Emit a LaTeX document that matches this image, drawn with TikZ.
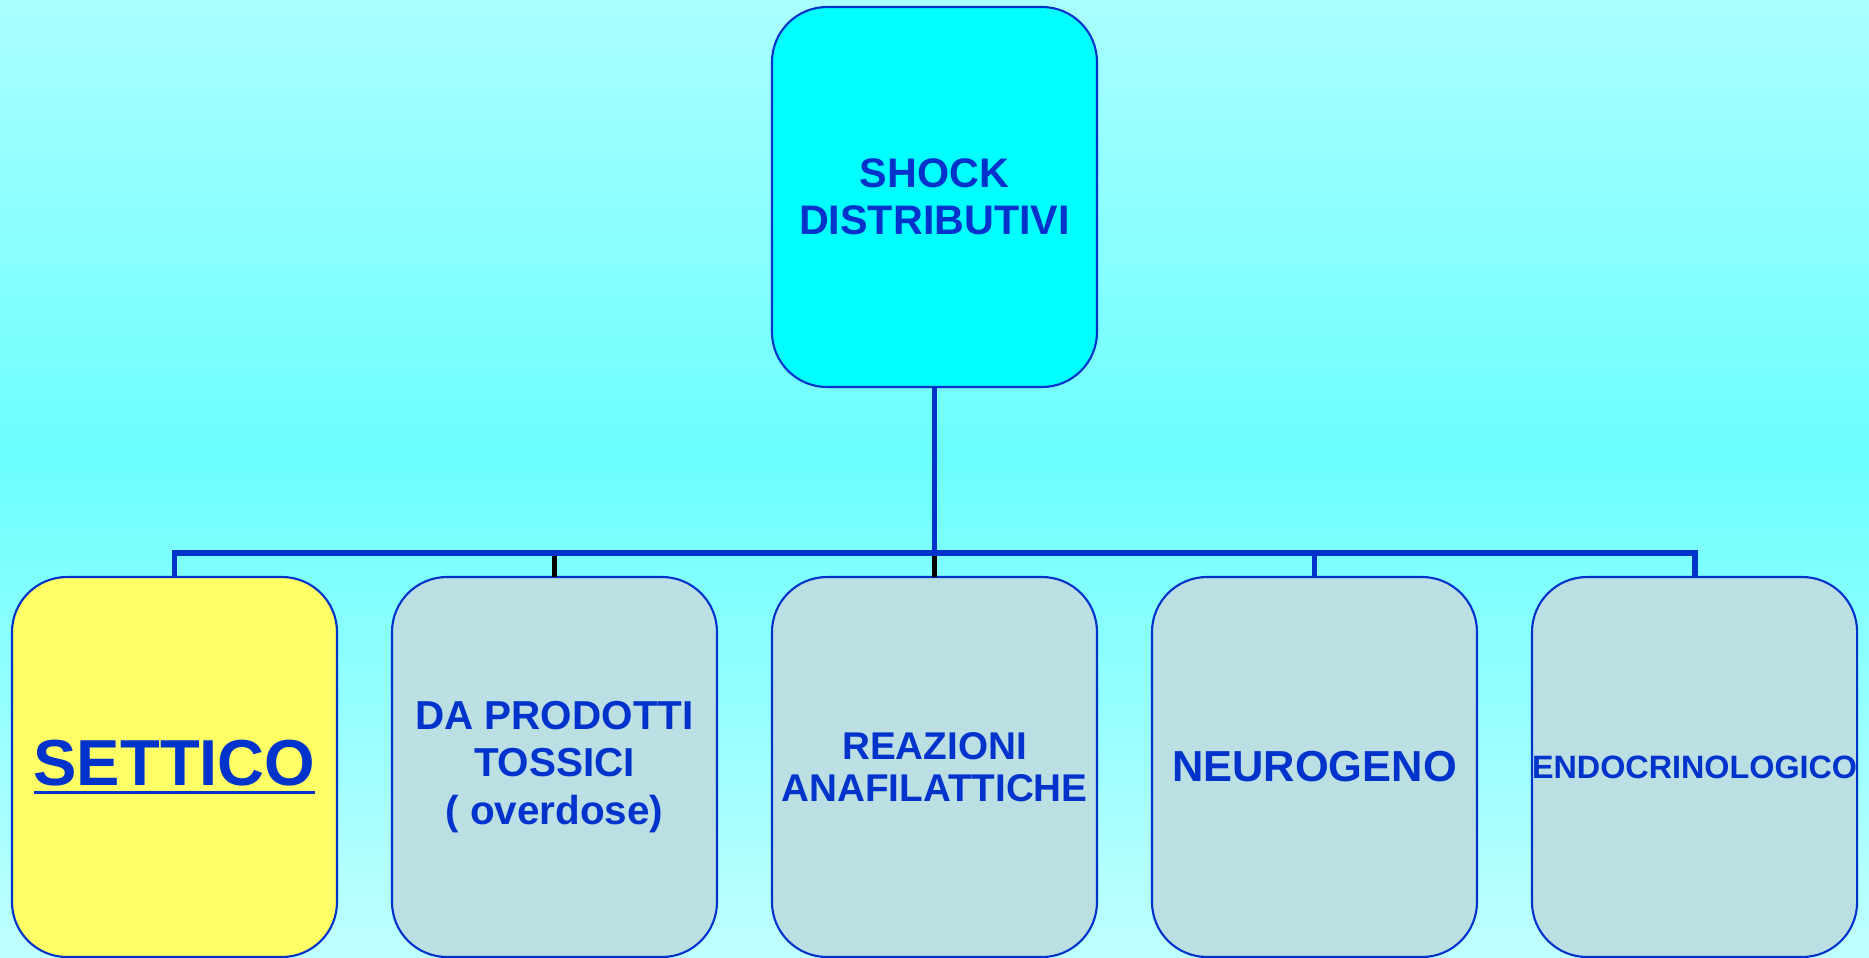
\documentclass[tikz,border=0pt]{standalone}
\usepackage{fontspec}
\setmainfont{Liberation Sans}
\usetikzlibrary{positioning,calc}
\definecolor{shockblue}{RGB}{0,51,204}
\definecolor{topcyan}{RGB}{0,255,255}
\definecolor{septicyellow}{RGB}{255,255,102}
\definecolor{childgray}{RGB}{187,223,227}
\definecolor{bgtop}{RGB}{170,255,255}
\definecolor{bgmid}{RGB}{108,255,255}
\definecolor{bgbot}{RGB}{192,255,255}

% underlined word, rule a bit below the baseline
\newcommand{\thickuline}[1]{\setbox0\hbox{#1}\rlap{\rule[-2.4pt]{\wd0}{0.85pt}}\box0}

\tikzset{
  box/.style={rectangle, rounded corners=0.55cm, draw=shockblue, line width=0.6pt,
    minimum width=3.25cm, minimum height=3.8cm, inner sep=0pt, outer sep=0pt,
    align=center, text=shockblue},
  childbox/.style={box, fill=childgray},
  bluelink/.style={draw=shockblue, line width=1.7pt},
  blacklink/.style={draw=black, line width=1.4pt},
}

\begin{document}
\begin{tikzpicture}
\useasboundingbox (0,0) rectangle (18.69,9.57);

% background: light - strong - light cyan
\shade[top color=bgtop, bottom color=bgmid] (0,5.0) rectangle (18.69,9.57);
\shade[top color=bgmid, bottom color=bgbot] (0,0) rectangle (18.69,5.0);

% root
\node[box, fill=topcyan, font=\bfseries\fontsize{11.75}{13.4}\selectfont]
  (top) at (9.345,7.60) {SHOCK\\DISTRIBUTIVI};

% children
\node[box, fill=septicyellow, font=\bfseries\fontsize{18.5}{22}\selectfont]
  (settico) at (1.745,1.90) {\thickuline{SETTICO}};
\node[childbox, right=0.55cm of settico, font=\bfseries\fontsize{11.5}{13.6}\selectfont]
  (tossici) {DA PRODOTTI\\TOSSICI\\( overdose)};
\node[childbox, right=0.55cm of tossici, font=\bfseries\fontsize{11}{12}\selectfont]
  (reazioni) {REAZIONI\\ANAFILATTICHE};
\node[childbox, right=0.55cm of reazioni, font=\bfseries\fontsize{12.35}{14}\selectfont]
  (neuro) {NEUROGENO};
\node[childbox, right=0.55cm of neuro, font=\bfseries\fontsize{9.2}{11}\selectfont]
  (endo) {ENDOCRINOLOGICO};

\coordinate (hub) at ($(top.south)+(0,-1.66)$);

% connectors
\draw[blacklink] (tossici.north) |- (hub);
\draw[blacklink] (reazioni.north) -- (hub);
\draw[bluelink] (top.south) -- (hub);
\draw[bluelink] (settico.north) |- (hub) -| (endo.north);
\draw[bluelink] (hub) -| (neuro.north);
\end{tikzpicture}
\end{document}
